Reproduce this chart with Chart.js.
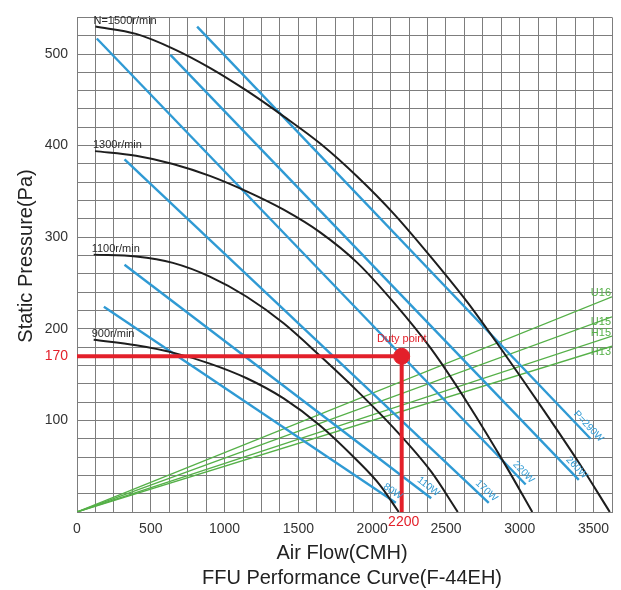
<!DOCTYPE html>
<html>
<head>
<meta charset="utf-8">
<script src="https://cdn.jsdelivr.net/npm/chart.js@4.4.0/dist/chart.umd.min.js"></script>
<style>
  html, body { margin: 0; padding: 0; background: #fff; }
  #wrap { width: 621px; height: 590px; }
</style>
</head>
<body>
<div id="wrap"><canvas id="chart" width="621" height="590"></canvas></div>
<script>
// ---- values ----
const flowMax = 3625;
const pressureMax = 540;
const flowTickLabels = [0, 500, 1000, 1500, 2000, 2500, 3000, 3500];
const pressureTickLabels = [100, 200, 300, 400, 500];

// fan speed curves (CMH / Pa)
const speedNames = ['N=1500r/min', '1300r/min', '1100r/min', '900r/min'];
const flow1500 = [125, 400, 650, 900, 1150, 1400, 1650, 1900, 2150, 2400, 2650, 2900, 3150, 3400, 3610];
const pres1500 = [530, 522, 506, 485, 460, 432, 402, 366, 325, 278, 228, 172, 114, 54, 0];
const flow1300 = [122, 400, 650, 900, 1150, 1400, 1650, 1900, 2150, 2400, 2650, 2900, 3085];
const pres1300 = [394, 389, 380, 367, 350, 330, 305, 272, 228, 178, 118, 52, 0];
const flow1100 = [113, 400, 650, 900, 1150, 1400, 1650, 1900, 2150, 2400, 2580];
const pres1100 = [281, 279, 272, 257, 235, 206, 170, 132, 91, 44, 0];
const flow900 = [113, 400, 650, 900, 1150, 1400, 1650, 1900, 2050, 2180];
const pres900 = [188, 182, 174, 162, 146, 124, 94, 56, 30, 0];

// power lines (start / end)
const powerNames = ['80W', '110W', '170W', '220W', '260W', 'P=290W'];
const powerFlow = [[182, 2160], [322, 2400], [322, 2790], [134, 3040], [633, 3400], [814, 3480]];
const powerPres = [[224, 10], [270, 15], [385, 10], [517, 30], [499, 35], [530, 80]];

// filter resistance lines (origin -> right edge)
const filterNames = ['U16', 'U15', 'H15', 'H13'];
const filterFlow = [0, 3625];
const filterPres = [[0, 235], [0, 213], [0, 192], [0, 181]];

// duty point
const dutyFlow = 2200;
const dutyPressure = 170;

// ---- build datasets ----
function toPoints(xs, ys) {
    return xs.map((x, i) => ({ x: x, y: ys[i] }));
}

const BLACK = '#1e1e1e';
const BLUE = '#2f9ad4';
const GREEN = '#55b048';
const RED = '#e3202a';

const speedCurves = [
    toPoints(flow1500, pres1500),
    toPoints(flow1300, pres1300),
    toPoints(flow1100, pres1100),
    toPoints(flow900, pres900)
];

const datasets = [];

filterPres.forEach((p, i) => {
    datasets.push({
        label: filterNames[i],
        data: toPoints(filterFlow, p),
        borderColor: GREEN,
        borderWidth: 1.3,
        pointRadius: 0,
        order: 4
    });
});

powerFlow.forEach((f, i) => {
    datasets.push({
        label: powerNames[i],
        data: toPoints(f, powerPres[i]),
        borderColor: BLUE,
        borderWidth: 2.4,
        pointRadius: 0,
        order: 3
    });
});

speedCurves.forEach((pts, i) => {
    datasets.push({
        label: speedNames[i],
        data: pts,
        borderColor: BLACK,
        borderWidth: 2,
        pointRadius: 0,
        cubicInterpolationMode: 'monotone',
        order: 2
    });
});

// duty point guide lines + marker
datasets.push({
    label: 'duty-h',
    data: toPoints([0, dutyFlow], [dutyPressure, dutyPressure]),
    borderColor: RED,
    borderWidth: 4,
    pointRadius: 0,
    order: 1
});
datasets.push({
    label: 'duty-v',
    data: toPoints([dutyFlow, dutyFlow], [dutyPressure, 0]),
    borderColor: RED,
    borderWidth: 4,
    pointRadius: 0,
    order: 1
});
datasets.push({
    label: 'duty',
    data: toPoints([dutyFlow], [dutyPressure]),
    showLine: false,
    pointRadius: 8,
    pointBackgroundColor: RED,
    pointBorderColor: RED,
    pointBorderWidth: 1,
    order: 0
});

// ---- text labels drawn on top ----
const labelPlugin = {
    id: 'labels',
    afterDatasetsDraw(chart) {
        const { ctx, scales: { x, y } } = chart;
        ctx.save();

        // speed curve names
        ctx.fillStyle = '#2a2a2a';
        ctx.font = '11px "Liberation Sans", Arial, sans-serif';
        ctx.textAlign = 'left';
        ctx.textBaseline = 'alphabetic';
        speedCurves.forEach((pts, i) => {
            ctx.fillText(speedNames[i], x.getPixelForValue(pts[0].x) - 2, y.getPixelForValue(pts[0].y) - 3);
        });

        // power line names, rotated along each line
        ctx.fillStyle = BLUE;
        ctx.font = '10px "Liberation Sans", Arial, sans-serif';
        ctx.textAlign = 'center';
        ctx.textBaseline = 'middle';
        powerFlow.forEach((f, i) => {
            const x0 = x.getPixelForValue(f[0]), y0 = y.getPixelForValue(powerPres[i][0]);
            const x1 = x.getPixelForValue(f[1]), y1 = y.getPixelForValue(powerPres[i][1]);
            const ang = Math.atan2(y1 - y0, x1 - x0);
            ctx.save();
            ctx.translate(x1 + 2, y1 - 8);
            ctx.rotate(ang);
            ctx.fillText(powerNames[i], -6, 0);
            ctx.restore();
        });

        // filter names at the right edge
        const filterOffsets = [-4, 5, -3, 6];
        ctx.fillStyle = GREEN;
        ctx.font = '11px "Liberation Sans", Arial, sans-serif';
        ctx.textAlign = 'right';
        ctx.textBaseline = 'middle';
        filterPres.forEach((p, i) => {
            ctx.fillText(filterNames[i], x.right - 1, y.getPixelForValue(p[1]) + filterOffsets[i]);
        });

        // duty point texts
        const dx = x.getPixelForValue(dutyFlow), dy = y.getPixelForValue(dutyPressure);
        ctx.fillStyle = RED;
        ctx.font = '11px "Liberation Sans", Arial, sans-serif';
        ctx.textAlign = 'center';
        ctx.textBaseline = 'alphabetic';
        ctx.fillText('Duty point', dx, dy - 14);

        ctx.font = '14px "Liberation Sans", Arial, sans-serif';
        ctx.textAlign = 'right';
        ctx.textBaseline = 'middle';
        ctx.fillText(String(dutyPressure), x.left - 9, dy);
        ctx.textAlign = 'center';
        ctx.fillText(String(dutyFlow), dx + 2, y.bottom + 10);

        // axis titles
        ctx.fillStyle = '#222';
        ctx.font = '20px "Liberation Sans", Arial, sans-serif';
        ctx.textAlign = 'center';
        ctx.textBaseline = 'middle';
        ctx.fillText('Air Flow(CMH)', 342, 553);
        ctx.fillText('FFU Performance Curve(F-44EH)', 352, 578);
        ctx.save();
        ctx.translate(26, 256);
        ctx.rotate(-Math.PI / 2);
        ctx.fillText('Static Pressure(Pa)', 0, 0);
        ctx.restore();

        ctx.restore();
    }
};

const tickFont = { family: '"Liberation Sans", Arial, sans-serif', size: 14 };
const gridColor = '#7d7d7d';

new Chart(document.getElementById('chart'), {
    type: 'line',
    data: { datasets: datasets },
    options: {
        responsive: false,
        animation: false,
        devicePixelRatio: 1,
        layout: { padding: { top: 12, right: 8, left: 0, bottom: 0 } },
        plugins: {
            legend: { display: false },
            tooltip: { enabled: false }
        },
        scales: {
            x: {
                type: 'linear',
                min: 0,
                max: flowMax,
                afterFit(scale) { scale.height = 78; },
                grid: { color: gridColor, lineWidth: 1, drawTicks: false },
                border: { color: gridColor },
                ticks: {
                    stepSize: 125,
                    autoSkip: false,
                    maxRotation: 0,
                    padding: 9,
                    color: '#333',
                    font: tickFont,
                    callback: v => flowTickLabels.includes(v) ? String(v) : ''
                }
            },
            y: {
                type: 'linear',
                min: 0,
                max: pressureMax,
                afterFit(scale) { scale.width = 77; },
                grid: { color: gridColor, lineWidth: 1, drawTicks: false },
                border: { color: gridColor },
                ticks: {
                    stepSize: 20,
                    autoSkip: false,
                    padding: 9,
                    color: '#333',
                    font: tickFont,
                    callback: v => pressureTickLabels.includes(v) ? String(v) : ''
                }
            }
        }
    },
    plugins: [labelPlugin]
});
</script>
</body>
</html>
